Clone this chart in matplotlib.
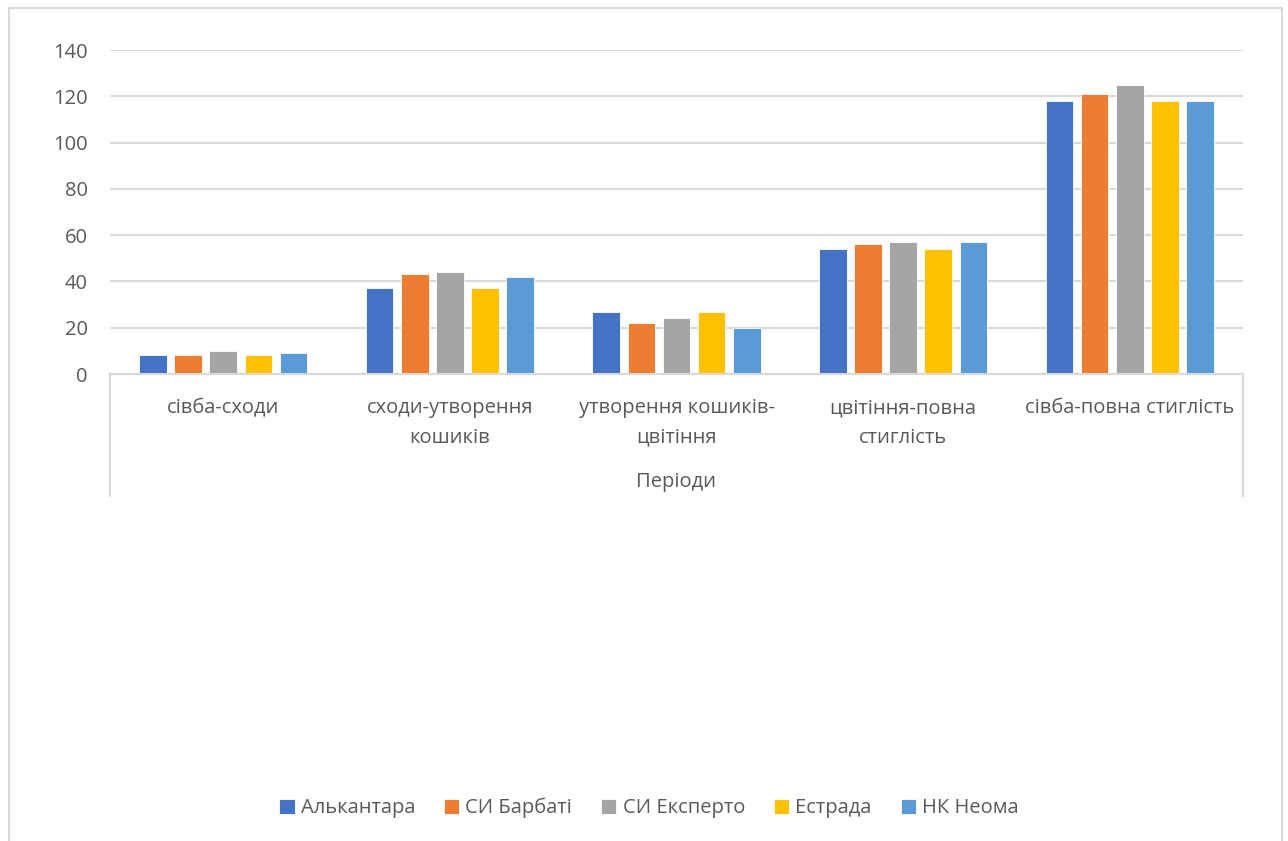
import matplotlib.pyplot as plt
import numpy as np
from matplotlib.lines import Line2D

plt.rcParams["font.family"] = ["Open Sans", "DejaVu Sans"]

periods = ["сівба-сходи", "сходи-утворення\nкошиків", "утворення кошиків-\nцвітіння",
           "цвітіння-повна\nстиглість", "сівба-повна стиглість"]
varieties = ["Алькантара", "СИ Барбаті", "СИ Експерто", "Естрада", "НК Неома"]
alkantara = [8, 37, 27, 54, 118]
barbati = [8, 43, 22, 56, 121]
eksperto = [10, 44, 24, 57, 125]
estrada = [8, 37, 27, 54, 118]
neoma = [9, 42, 20, 57, 118]
colors = ["#4472C4", "#ED7D31", "#A5A5A5", "#FFC000", "#5B9BD5"]

W, H = 1288, 841
fig = plt.figure(figsize=(W / 100, H / 100), dpi=100)
ax = fig.add_axes([110 / W, 1 - 374 / H, (1243 - 110) / W, (374 - 50) / H])

txt = "#595959"
grid = "#D9D9D9"
fs = 14.5

series = [alkantara, barbati, eksperto, estrada, neoma]
x = np.arange(len(periods))
bw = 0.122
step = 0.155
for i, (vals, c, name) in enumerate(zip(series, colors, varieties)):
    ax.bar(x + (i - 2) * step, vals, width=bw, color=c, edgecolor="white",
           linewidth=0.6, label=name, zorder=3)

ax.set_xlim(-0.5, len(periods) - 0.5)
ax.set_ylim(0, 140)
ax.set_yticks(range(0, 141, 20))
ax.yaxis.grid(True, color=grid, linewidth=1.5, zorder=0)
ax.tick_params(axis="y", length=0, pad=16, labelsize=fs, labelcolor=txt)
ax.set_xticks([])
for s in ["top", "right", "left"]:
    ax.spines[s].set_visible(False)
ax.spines["bottom"].set_color(grid)
ax.spines["bottom"].set_linewidth(1.5)
ax.spines["bottom"].set_zorder(4)

# category labels under the axis
for xi, lab in zip(x, periods):
    ax.annotate(lab, (xi, 0), xycoords="data", xytext=(0, -17.5), textcoords="offset points",
                ha="center", va="top", fontsize=fs, color=txt, linespacing=1.62)
ax.annotate("Періоди", (0.5, 0), xycoords="axes fraction", xytext=(0, -70.5),
            textcoords="offset points", ha="center", va="top", fontsize=fs, color=txt)

# frame around the category area
for px in (110, 1243):
    fig.add_artist(Line2D([px / W, px / W], [1 - 374 / H, 1 - 496 / H],
                          color=grid, linewidth=1.5))

# outer chart border
fig.add_artist(Line2D([9 / W, 9 / W, 1282 / W, 1282 / W], [0, 1 - 8 / H, 1 - 8 / H, 0],
                      color=grid, linewidth=1.5))

leg = fig.legend(loc="center", bbox_to_anchor=(649 / W, 1 - 808 / H), ncol=5,
                 frameon=False, fontsize=fs, handlelength=0.75, handleheight=0.75,
                 handletextpad=0.3, columnspacing=1.45)
for t in leg.get_texts():
    t.set_color(txt)

fig.savefig("out.png", dpi=100)
